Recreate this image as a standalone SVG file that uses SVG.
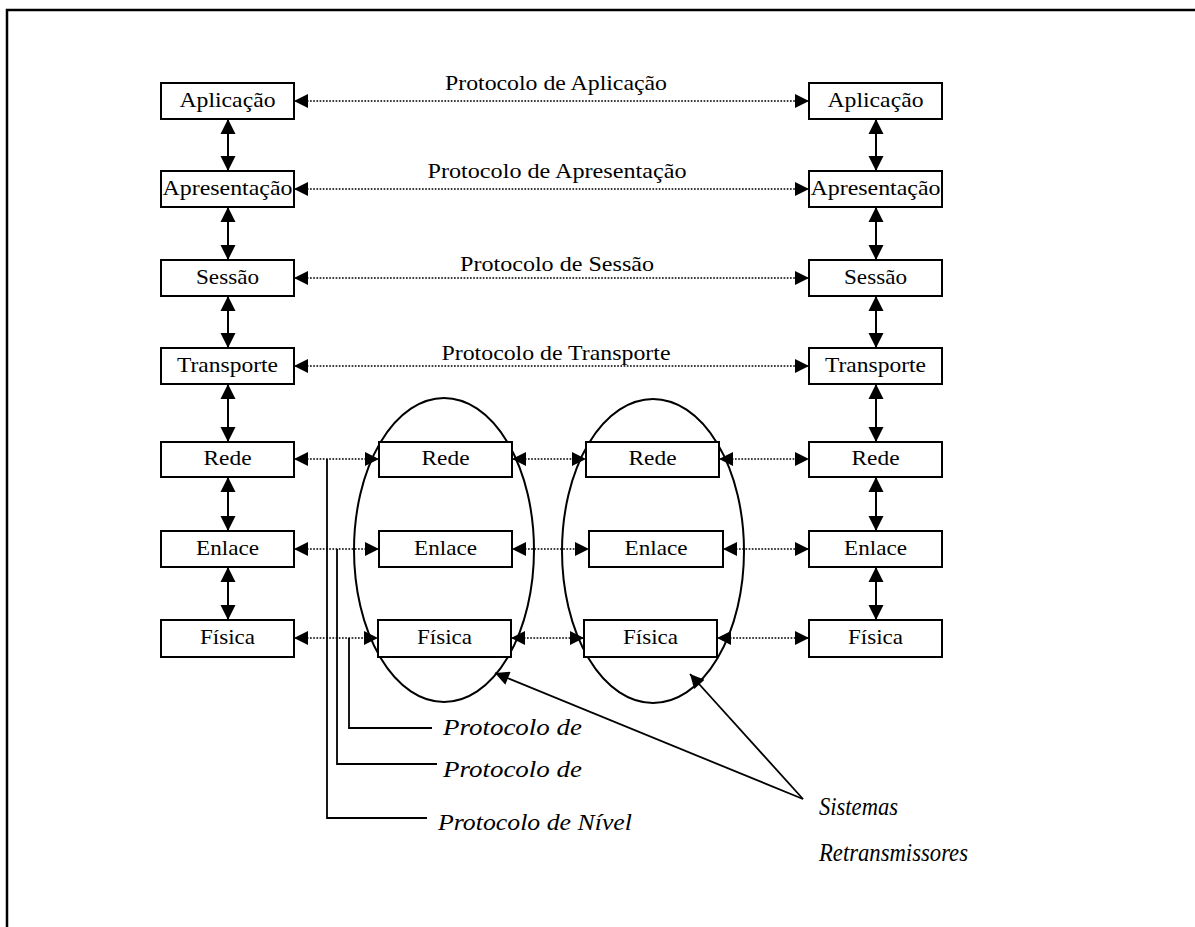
<svg xmlns="http://www.w3.org/2000/svg" width="1195" height="927" viewBox="0 0 1195 927">
  <defs>
    <style>
      .box { fill: #fff; stroke: #000; stroke-width: 2; }
      .lbl { font-size: 22px; fill: #000; text-anchor: middle; }
      .ital { font-size: 23px; font-style: italic; fill: #000; }
      .ital-lg { font-size: 25px; font-style: italic; fill: #000; }
      .dot { stroke: #000; stroke-width: 1.7; stroke-dasharray: 1.7 1.5; fill: none; }
      .solid { stroke: #000; stroke-width: 2; fill: none; }
      .lead { stroke: #000; stroke-width: 1.8; fill: none; }
      .sys { fill: none; stroke: #000; stroke-width: 2; }
    </style>
    <marker id="ah" viewBox="0 0 10 10" refX="10" refY="5" markerWidth="15" markerHeight="14" markerUnits="userSpaceOnUse" orient="auto-start-reverse">
      <path d="M0,0 L10,5 L0,10 z" fill="#000"/>
    </marker>
    <marker id="av" viewBox="0 0 10 10" refX="10" refY="5" markerWidth="15" markerHeight="17" markerUnits="userSpaceOnUse" orient="auto-start-reverse">
      <path d="M0,0 L10,5 L0,10 z" fill="#000"/>
    </marker>
  </defs>

  <rect width="1195" height="927" fill="#fff"/>

  <!-- outer frame -->
  <path d="M7,927 V10 H1195" fill="none" stroke="#000" stroke-width="2.5"/>

  <!-- relay systems -->
  <g id="relay1"><ellipse cx="444" cy="550" rx="90" ry="152" class="sys"/></g>
  <g id="relay2"><ellipse cx="653" cy="551" rx="91" ry="152" class="sys"/></g>

  <g font-family="Liberation Serif, Times New Roman, serif">
  <!-- left stack -->
  <g id="l-aplicacao"><rect x="161" y="83" width="133" height="36" class="box"/><text x="227.5" y="107" class="lbl" textLength="96" lengthAdjust="spacingAndGlyphs">Aplicação</text></g>
  <g id="l-apresentacao"><rect x="161" y="171" width="133" height="36" class="box"/><text x="227.5" y="195" class="lbl" textLength="130" lengthAdjust="spacingAndGlyphs">Apresentação</text></g>
  <g id="l-sessao"><rect x="161" y="260" width="133" height="36" class="box"/><text x="227.5" y="284" class="lbl" textLength="63" lengthAdjust="spacingAndGlyphs">Sessão</text></g>
  <g id="l-transporte"><rect x="161" y="348" width="133" height="36" class="box"/><text x="227.5" y="372" class="lbl" textLength="101" lengthAdjust="spacingAndGlyphs">Transporte</text></g>
  <g id="l-rede"><rect x="161" y="442" width="133" height="35" class="box"/><text x="227.5" y="465" class="lbl" textLength="48" lengthAdjust="spacingAndGlyphs">Rede</text></g>
  <g id="l-enlace"><rect x="161" y="531" width="133" height="36" class="box"/><text x="227.5" y="555" class="lbl" textLength="63" lengthAdjust="spacingAndGlyphs">Enlace</text></g>
  <g id="l-fisica"><rect x="161" y="620" width="133" height="37" class="box"/><text x="227.5" y="644" class="lbl" textLength="55" lengthAdjust="spacingAndGlyphs">Física</text></g>

  <!-- right stack -->
  <g id="r-aplicacao"><rect x="809" y="83" width="133" height="36" class="box"/><text x="875.5" y="107" class="lbl" textLength="96" lengthAdjust="spacingAndGlyphs">Aplicação</text></g>
  <g id="r-apresentacao"><rect x="809" y="171" width="133" height="36" class="box"/><text x="875.5" y="195" class="lbl" textLength="130" lengthAdjust="spacingAndGlyphs">Apresentação</text></g>
  <g id="r-sessao"><rect x="809" y="260" width="133" height="36" class="box"/><text x="875.5" y="284" class="lbl" textLength="63" lengthAdjust="spacingAndGlyphs">Sessão</text></g>
  <g id="r-transporte"><rect x="809" y="348" width="133" height="36" class="box"/><text x="875.5" y="372" class="lbl" textLength="101" lengthAdjust="spacingAndGlyphs">Transporte</text></g>
  <g id="r-rede"><rect x="809" y="442" width="133" height="35" class="box"/><text x="875.5" y="465" class="lbl" textLength="48" lengthAdjust="spacingAndGlyphs">Rede</text></g>
  <g id="r-enlace"><rect x="809" y="531" width="133" height="36" class="box"/><text x="875.5" y="555" class="lbl" textLength="63" lengthAdjust="spacingAndGlyphs">Enlace</text></g>
  <g id="r-fisica"><rect x="809" y="620" width="133" height="37" class="box"/><text x="875.5" y="644" class="lbl" textLength="55" lengthAdjust="spacingAndGlyphs">Física</text></g>

  <!-- relay 1 layers -->
  <g id="m1-rede"><rect x="379" y="442" width="133" height="35" class="box"/><text x="445.5" y="465" class="lbl" textLength="48" lengthAdjust="spacingAndGlyphs">Rede</text></g>
  <g id="m1-enlace"><rect x="379" y="531" width="133" height="36" class="box"/><text x="445.5" y="555" class="lbl" textLength="63" lengthAdjust="spacingAndGlyphs">Enlace</text></g>
  <g id="m1-fisica"><rect x="378" y="620" width="133" height="37" class="box"/><text x="444.5" y="644" class="lbl" textLength="55" lengthAdjust="spacingAndGlyphs">Física</text></g>

  <!-- relay 2 layers -->
  <g id="m2-rede"><rect x="586" y="442" width="133" height="35" class="box"/><text x="652.5" y="465" class="lbl" textLength="48" lengthAdjust="spacingAndGlyphs">Rede</text></g>
  <g id="m2-enlace"><rect x="589" y="531" width="134" height="36" class="box"/><text x="656" y="555" class="lbl" textLength="63" lengthAdjust="spacingAndGlyphs">Enlace</text></g>
  <g id="m2-fisica"><rect x="584" y="620" width="133" height="37" class="box"/><text x="650.5" y="644" class="lbl" textLength="55" lengthAdjust="spacingAndGlyphs">Física</text></g>

  <!-- peer protocol labels -->
  <g id="peer-labels">
    <text x="556" y="90" class="lbl" textLength="222" lengthAdjust="spacingAndGlyphs">Protocolo de Aplicação</text>
    <text x="557" y="178" class="lbl" textLength="259" lengthAdjust="spacingAndGlyphs">Protocolo de Apresentação</text>
    <text x="557" y="271" class="lbl" textLength="194" lengthAdjust="spacingAndGlyphs">Protocolo de Sessão</text>
    <text x="556" y="360" class="lbl" textLength="229" lengthAdjust="spacingAndGlyphs">Protocolo de Transporte</text>
  </g>
  </g>

  <!-- connectors -->
  <g id="connectors">
    <!-- vertical interfaces, left stack -->
    <line x1="228" y1="119" x2="228" y2="171" class="solid" marker-start="url(#av)" marker-end="url(#av)"/>
    <line x1="228" y1="207" x2="228" y2="260" class="solid" marker-start="url(#av)" marker-end="url(#av)"/>
    <line x1="228" y1="296" x2="228" y2="348" class="solid" marker-start="url(#av)" marker-end="url(#av)"/>
    <line x1="228" y1="384" x2="228" y2="442" class="solid" marker-start="url(#av)" marker-end="url(#av)"/>
    <line x1="228" y1="477" x2="228" y2="531" class="solid" marker-start="url(#av)" marker-end="url(#av)"/>
    <line x1="228" y1="567" x2="228" y2="620" class="solid" marker-start="url(#av)" marker-end="url(#av)"/>
    <!-- vertical interfaces, right stack -->
    <line x1="876" y1="119" x2="876" y2="171" class="solid" marker-start="url(#av)" marker-end="url(#av)"/>
    <line x1="876" y1="207" x2="876" y2="260" class="solid" marker-start="url(#av)" marker-end="url(#av)"/>
    <line x1="876" y1="296" x2="876" y2="348" class="solid" marker-start="url(#av)" marker-end="url(#av)"/>
    <line x1="876" y1="384" x2="876" y2="442" class="solid" marker-start="url(#av)" marker-end="url(#av)"/>
    <line x1="876" y1="477" x2="876" y2="531" class="solid" marker-start="url(#av)" marker-end="url(#av)"/>
    <line x1="876" y1="567" x2="876" y2="620" class="solid" marker-start="url(#av)" marker-end="url(#av)"/>

    <!-- end-to-end peer protocols -->
    <line x1="294" y1="101" x2="809" y2="101" class="dot" marker-start="url(#ah)" marker-end="url(#ah)"/>
    <line x1="294" y1="189" x2="809" y2="189" class="dot" marker-start="url(#ah)" marker-end="url(#ah)"/>
    <line x1="294" y1="278" x2="809" y2="278" class="dot" marker-start="url(#ah)" marker-end="url(#ah)"/>
    <line x1="294" y1="366" x2="809" y2="366" class="dot" marker-start="url(#ah)" marker-end="url(#ah)"/>

    <!-- hop-by-hop protocols -->
    <line x1="294" y1="459" x2="379" y2="459" class="dot" marker-start="url(#ah)" marker-end="url(#ah)"/>
    <line x1="512" y1="459" x2="586" y2="459" class="dot" marker-start="url(#ah)" marker-end="url(#ah)"/>
    <line x1="719" y1="459" x2="809" y2="459" class="dot" marker-start="url(#ah)" marker-end="url(#ah)"/>
    <line x1="294" y1="549" x2="379" y2="549" class="dot" marker-start="url(#ah)" marker-end="url(#ah)"/>
    <line x1="512" y1="549" x2="589" y2="549" class="dot" marker-start="url(#ah)" marker-end="url(#ah)"/>
    <line x1="723" y1="549" x2="809" y2="549" class="dot" marker-start="url(#ah)" marker-end="url(#ah)"/>
    <line x1="294" y1="638" x2="378" y2="638" class="dot" marker-start="url(#ah)" marker-end="url(#ah)"/>
    <line x1="511" y1="638" x2="584" y2="638" class="dot" marker-start="url(#ah)" marker-end="url(#ah)"/>
    <line x1="717" y1="638" x2="809" y2="638" class="dot" marker-start="url(#ah)" marker-end="url(#ah)"/>

    <!-- leaders to the level labels -->
    <path d="M327,459 V818 H427" class="lead"/>
    <path d="M337,549 V764 H437" class="lead"/>
    <path d="M349,638 V728 H432" class="lead"/>

    <!-- pointers to the relay systems -->
    <line x1="803" y1="799" x2="495" y2="673" class="lead" marker-end="url(#ah)"/>
    <line x1="803" y1="799" x2="690" y2="674" class="lead" marker-end="url(#ah)"/>
  </g>

  <!-- annotations -->
  <g id="annotations" font-family="Liberation Serif, Times New Roman, serif">
    <text x="443" y="735" class="ital" textLength="139" lengthAdjust="spacingAndGlyphs">Protocolo de</text>
    <text x="443" y="777" class="ital" textLength="139" lengthAdjust="spacingAndGlyphs">Protocolo de</text>
    <text x="438" y="830" class="ital" textLength="194" lengthAdjust="spacingAndGlyphs">Protocolo de Nível</text>
    <text x="819" y="815" class="ital-lg" textLength="79" lengthAdjust="spacingAndGlyphs">Sistemas</text>
    <text x="819" y="861" class="ital-lg" textLength="149" lengthAdjust="spacingAndGlyphs">Retransmissores</text>
  </g>
</svg>
